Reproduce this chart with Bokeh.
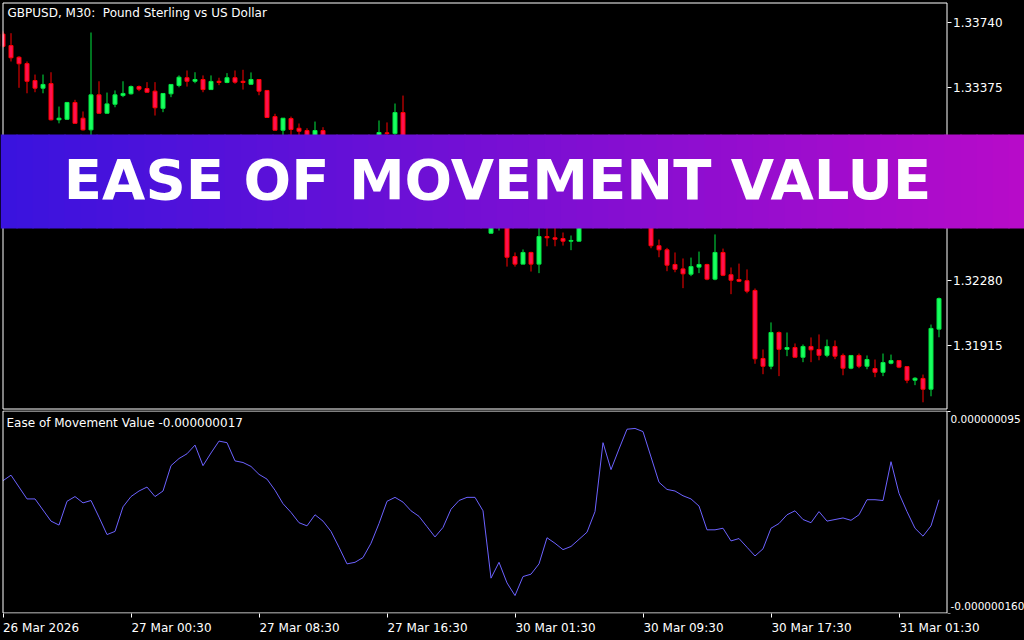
import numpy as np
from bokeh.plotting import figure
from bokeh.layouts import column
from bokeh.models import (Range1d, FixedTicker, NumeralTickFormatter, CustomJSTickFormatter,
                          BoxAnnotation, Label, ColumnDataSource, LinearAxis,
                          GlobalInlineStyleSheet)
from bokeh.embed import file_html
from bokeh.resources import INLINE

# ---------------- data ----------------
symbol_title = "GBPUSD, M30:\u00a0 Pound Sterling vs US Dollar"
indicator_name = "Ease of Movement Value"
banner_text = "EASE OF MOVEMENT VALUE"

opens = [
    1.33676, 1.33611, 1.33545, 1.33509, 1.33413, 1.33370, 1.33396, 1.33191, 1.33194, 1.33289,
    1.33200, 1.33134, 1.33332, 1.33228, 1.33279, 1.33328, 1.33338, 1.33379, 1.33368, 1.33353,
    1.33256, 1.33338, 1.33385, 1.33429, 1.33409, 1.33419, 1.33362, 1.33409, 1.33402, 1.33429,
    1.33409, 1.33392, 1.33419, 1.33357, 1.33209, 1.33132, 1.33198, 1.33143, 1.33130, 1.33062,
    1.33130, 1.33028, 1.32960, 1.32859, 1.32791, 1.32830, 1.32904, 1.33017, 1.33117, 1.33113,
    1.33232, 1.33017, 1.32932, 1.32972, 1.32847, 1.32762, 1.32819, 1.32893, 1.32859, 1.32904,
    1.32870, 1.32549, 1.32610, 1.32706, 1.32417, 1.32374, 1.32440, 1.32374, 1.32530, 1.32523,
    1.32519, 1.32504, 1.32504, 1.32649, 1.32734, 1.32819, 1.33017, 1.32932, 1.33028, 1.33074,
    1.32989, 1.32791, 1.32478, 1.32455, 1.32372, 1.32347, 1.32317, 1.32357, 1.32372, 1.32289,
    1.32440, 1.32314, 1.32287, 1.32280, 1.32225, 1.31840, 1.31796, 1.31987, 1.31892, 1.31902,
    1.31847, 1.31908, 1.31891, 1.31858, 1.31908, 1.31857, 1.31785, 1.31857, 1.31796, 1.31783,
    1.31762, 1.31813, 1.31828, 1.31794, 1.31717, 1.31727, 1.31666, 1.32006]

highs = [
    1.33691, 1.33681, 1.33551, 1.33521, 1.33447, 1.33447, 1.33460, 1.33266, 1.33292, 1.33304,
    1.33238, 1.33685, 1.33409, 1.33345, 1.33357, 1.33409, 1.33385, 1.33385, 1.33404, 1.33404,
    1.33340, 1.33391, 1.33442, 1.33470, 1.33460, 1.33442, 1.33442, 1.33429, 1.33455, 1.33470,
    1.33474, 1.33459, 1.33419, 1.33360, 1.33225, 1.33200, 1.33209, 1.33170, 1.33143, 1.33181,
    1.33149, 1.33045, 1.32977, 1.32876, 1.32859, 1.32926, 1.33034, 1.33187, 1.33176, 1.33283,
    1.33328, 1.33040, 1.33017, 1.32989, 1.32870, 1.32847, 1.32915, 1.32915, 1.32932, 1.32926,
    1.32887, 1.32734, 1.32745, 1.32734, 1.32440, 1.32457, 1.32444, 1.32610, 1.32649, 1.32632,
    1.32553, 1.32536, 1.32677, 1.32762, 1.32847, 1.33045, 1.33062, 1.33074, 1.33096, 1.33091,
    1.33017, 1.32819, 1.32513, 1.32466, 1.32440, 1.32406, 1.32411, 1.32445, 1.32376, 1.32542,
    1.32462, 1.32355, 1.32377, 1.32344, 1.32236, 1.31891, 1.32044, 1.31993, 1.31987, 1.31925,
    1.31919, 1.31959, 1.31976, 1.31947, 1.31942, 1.31868, 1.31857, 1.31868, 1.31857, 1.31834,
    1.31868, 1.31862, 1.31828, 1.31794, 1.31734, 1.31749, 1.32032, 1.32185]

lows = [
    1.33600, 1.33521, 1.33372, 1.33341, 1.33347, 1.33341, 1.33187, 1.33171, 1.33190, 1.33170,
    1.33130, 1.33096, 1.33226, 1.33226, 1.33262, 1.33319, 1.33334, 1.33353, 1.33345, 1.33215,
    1.33234, 1.33319, 1.33375, 1.33379, 1.33398, 1.33347, 1.33362, 1.33387, 1.33398, 1.33395,
    1.33362, 1.33391, 1.33330, 1.33201, 1.33132, 1.33102, 1.33099, 1.33096, 1.33045, 1.33040,
    1.33006, 1.32932, 1.32836, 1.32745, 1.32762, 1.32808, 1.32893, 1.33000, 1.33074, 1.33091,
    1.32989, 1.32893, 1.32904, 1.32819, 1.32734, 1.32745, 1.32802, 1.32836, 1.32842, 1.32847,
    1.32706, 1.32547, 1.32564, 1.32360, 1.32360, 1.32374, 1.32332, 1.32323, 1.32475, 1.32475,
    1.32479, 1.32453, 1.32502, 1.32621, 1.32706, 1.32802, 1.32904, 1.32915, 1.32989, 1.32960,
    1.32762, 1.32464, 1.32413, 1.32334, 1.32328, 1.32238, 1.32306, 1.32323, 1.32283, 1.32283,
    1.32306, 1.32204, 1.32272, 1.32209, 1.31810, 1.31751, 1.31779, 1.31740, 1.31853, 1.31847,
    1.31819, 1.31819, 1.31830, 1.31847, 1.31836, 1.31745, 1.31779, 1.31785, 1.31779, 1.31734,
    1.31740, 1.31807, 1.31785, 1.31700, 1.31689, 1.31592, 1.31626, 1.31960]

closes = [
    1.33607, 1.33542, 1.33508, 1.33409, 1.33370, 1.33391, 1.33191, 1.33200, 1.33289, 1.33171,
    1.33134, 1.33332, 1.33228, 1.33281, 1.33332, 1.33340, 1.33379, 1.33364, 1.33347, 1.33259,
    1.33340, 1.33391, 1.33432, 1.33409, 1.33419, 1.33362, 1.33408, 1.33402, 1.33429, 1.33404,
    1.33402, 1.33419, 1.33353, 1.33204, 1.33132, 1.33200, 1.33136, 1.33126, 1.33074, 1.33130,
    1.33028, 1.32960, 1.32859, 1.32791, 1.32830, 1.32904, 1.33017, 1.33119, 1.33113, 1.33232,
    1.33017, 1.32932, 1.32972, 1.32847, 1.32762, 1.32819, 1.32893, 1.32859, 1.32904, 1.32870,
    1.32734, 1.32666, 1.32706, 1.32413, 1.32374, 1.32440, 1.32374, 1.32530, 1.32523, 1.32515,
    1.32504, 1.32508, 1.32649, 1.32734, 1.32819, 1.33017, 1.32932, 1.33028, 1.33074, 1.32989,
    1.32791, 1.32478, 1.32455, 1.32368, 1.32345, 1.32319, 1.32360, 1.32372, 1.32289, 1.32440,
    1.32311, 1.32283, 1.32277, 1.32221, 1.31838, 1.31796, 1.31987, 1.31892, 1.31902, 1.31847,
    1.31908, 1.31889, 1.31858, 1.31908, 1.31853, 1.31785, 1.31857, 1.31796, 1.31834, 1.31762,
    1.31817, 1.31828, 1.31791, 1.31717, 1.31728, 1.31666, 1.32010, 1.32179]

# Ease of Movement value, in units of 1e-9
emv_nano = [
    7, 14, -1, -16, -16, -30, -44, -49, -19, -13,
    -21, -18, -39, -61, -57, -26, -13, -6, -1, -13,
    -6, 26, 35, 41, 52, 26, 42, 57, 55, 32,
    30, 25, 15, 9, -5, -22, -33, -46, -50, -36,
    -44, -57, -77, -98, -96, -90, -72, -47, -19, -14,
    -20, -31, -38, -51, -64, -52, -29, -18, -14, -14,
    -31, -116, -96, -122, -138, -114, -111, -98, -65, -72,
    -80, -76, -67, -58, -32, 55, 21, 47, 72, 73,
    69, 37, 5, -4, -6, -12, -16, -25, -55, -55,
    -53, -69, -66, -77, -88, -79, -53, -47, -36, -31,
    -42, -46, -32, -44, -42, -40, -43, -36, -17, -17,
    -18, 31, -9, -32, -53, -63, -50, -17]

price_ticks = [1.31915, 1.32280, 1.32645, 1.33010, 1.33375, 1.33740]
price_window = (1.31554, 1.33852)      # price shown between the pane borders
emv_window = (-160e-9, 95e-9)          # indicator values at the pane borders
time_labels = ["26 Mar 2026", "27 Mar 00:30", "27 Mar 08:30", "27 Mar 16:30",
               "30 Mar 01:30", "30 Mar 09:30", "30 Mar 17:30", "31 Mar 01:30"]
label_bars = [0, 16, 32, 48, 64, 80, 96, 112]

# ---------------- styling / geometry ----------------
FONT = "DejaVu Sans"
BG = "black"
BULL_LINE, BULL_FILL = "#00e640", "#18ff60"
BEAR_LINE, BEAR_FILL = "#ff0000", "#ff1050"
EMV_COLOR = "#6c62ff"
W, H1, H2 = 1024, 410, 230
PX_BAR = 8.0                       # pixels per bar
pane_x = (0.0, 118.0)              # pane borders in bar units
x0 = -2.5 / PX_BAR
xr = Range1d(x0, x0 + W / PX_BAR)

n = len(opens)
idx = np.arange(n)

# price pane: borders at 2.5 px and 408.5 px from the top of a 410 px frame
pp = (price_window[1] - price_window[0]) / 406.0
p1_range = Range1d(price_window[0] - 1.5 * pp, price_window[1] + 2.5 * pp)
# indicator pane: borders at 0.5 px and 202.5 px of a 203 px frame
ep = (emv_window[1] - emv_window[0]) / 202.0
p2_range = Range1d(emv_window[0] - 0.5 * ep, emv_window[1] + 0.5 * ep)


def base_fig(height, yr, bottom):
    f = figure(width=W, height=height, x_range=xr, y_range=yr,
               output_backend="svg", toolbar_location=None,
               x_axis_location=None, y_axis_location=None,
               min_border_left=0, min_border_right=0, min_border_top=0,
               min_border_bottom=bottom,
               background_fill_color=BG, border_fill_color=BG, outline_line_color=None)
    f.grid.visible = False
    return f


# ---------------- main price pane ----------------
p1 = base_fig(H1, p1_range, 0)

O = np.array(opens); C = np.array(closes)
up = C >= O
src = ColumnDataSource(dict(
    x=idx, high=highs, low=lows,
    top=np.maximum(O, C), bottom=np.minimum(O, C),
    line=[BULL_LINE if u else BEAR_LINE for u in up],
    fill=[BULL_FILL if u else BEAR_FILL for u in up],
))
p1.segment(x0="x", y0="low", x1="x", y1="high", line_color="line", line_width=1, source=src)
p1.vbar(x="x", width=0.5, top="top", bottom="bottom", fill_color="fill",
        line_color="line", line_width=1, source=src)

# hide what lies left of the pane border, then draw the pane border (crisp 1px)
p1.quad(left=xr.start, right=pane_x[0] - 0.5 / PX_BAR, bottom=p1_range.start, top=p1_range.end,
        fill_color=BG, line_color=None)
p1.quad(left=pane_x[0], right=pane_x[1], bottom=price_window[0], top=price_window[1],
        fill_color=None, line_color="white", line_width=1)

ya = LinearAxis(fixed_location=pane_x[1])
ya.ticker = FixedTicker(ticks=price_ticks, minor_ticks=[])
ya.formatter = NumeralTickFormatter(format="0.00000")
ya.axis_line_color = None
ya.major_tick_line_color = "white"
ya.major_tick_out = 4
ya.major_tick_in = 0
ya.minor_tick_line_color = None
ya.major_label_standoff = 2
ya.major_label_text_color = "white"
ya.major_label_text_font = FONT
ya.major_label_text_font_size = "12px"
p1.add_layout(ya, "right")

p1.add_layout(Label(x=7, y=12.5, x_units="canvas", y_units="canvas", text=symbol_title,
                    text_color="white", text_font=FONT, text_font_size="12px",
                    text_baseline="middle", text_align="left"))

# banner with a horizontal gradient
left_rgb = np.array([58, 19, 222]); right_rgb = np.array([183, 11, 201])
nstrip = 64
sw = W / nstrip
for i in range(nstrip):
    t = i / (nstrip - 1)
    r, g, b = (left_rgb + (right_rgb - left_rgb) * t).round().astype(int)
    p1.add_layout(BoxAnnotation(left=i * sw, right=(i + 1) * sw + 1, top=134, bottom=228,
                                left_units="canvas", right_units="canvas",
                                top_units="canvas", bottom_units="canvas",
                                fill_color=f"#{r:02x}{g:02x}{b:02x}", fill_alpha=1.0,
                                line_color=None, level="overlay"))
p1.add_layout(Label(x=497, y=179, x_units="canvas", y_units="canvas", text=banner_text,
                    text_color="white", text_font=FONT, text_font_style="bold",
                    text_font_size="56px", text_align="center", text_baseline="middle",
                    level="overlay"))

# ---------------- indicator pane ----------------
p2 = base_fig(H2, p2_range, 27)

emv = np.array(emv_nano) * 1e-9
p2.line(idx, emv, line_color=EMV_COLOR, line_width=1)
p2.quad(left=pane_x[0], right=pane_x[1], bottom=emv_window[0], top=emv_window[1],
        fill_color=None, line_color="white", line_width=1)

# time axis: tick marks at the bars (minor ticks); labels begin at the tick
label_w = [76 if i == 0 else 81 for i in range(len(time_labels))]
label_pos = [b + w / 2 / PX_BAR for b, w in zip(label_bars, label_w)]
xa = LinearAxis()
xa.ticker = FixedTicker(ticks=label_pos, minor_ticks=label_bars)
xa.formatter = CustomJSTickFormatter(args=dict(labels=time_labels), code="return labels[index]")
xa.axis_line_color = None
xa.major_tick_line_color = None
xa.major_tick_out = 4
xa.major_tick_in = 0
xa.minor_tick_line_color = "white"
xa.minor_tick_out = 4
xa.minor_tick_in = 0
xa.major_label_standoff = 3
xa.major_label_text_color = "white"
xa.major_label_text_font = FONT
xa.major_label_text_font_size = "12px"
p2.add_layout(xa, "below")

ya2 = LinearAxis(fixed_location=pane_x[1])
ya2.ticker = FixedTicker(ticks=[], minor_ticks=list(emv_window))
ya2.axis_line_color = None
ya2.minor_tick_line_color = "white"
ya2.minor_tick_out = 3
ya2.minor_tick_in = 0
ya2.major_tick_line_color = None
p2.add_layout(ya2, "right")

p2.add_layout(Label(x=6, y=12, x_units="canvas", y_units="canvas",
                    text=f"{indicator_name} {emv[-1]:.9f}",
                    text_color="white", text_font=FONT, text_font_size="12px",
                    text_baseline="middle", text_align="left"))
p2.add_layout(Label(x=950, y=8, x_units="canvas", y_units="canvas",
                    text=f"{emv_window[1]:.9f}", text_color="white", text_font=FONT,
                    text_font_size="10.5px", text_baseline="middle", text_align="left"))
p2.add_layout(Label(x=950, y=195, x_units="canvas", y_units="canvas",
                    text=f"{emv_window[0]:.9f}", text_color="white", text_font=FONT,
                    text_font_size="10.5px", text_baseline="middle", text_align="left"))

layout = column(p1, p2, spacing=0)
layout.stylesheets = [GlobalInlineStyleSheet(
    css="html, body { margin: 0 !important; padding: 0; overflow: hidden; background: #000; }")]

open("out.html", "w").write(file_html(layout, INLINE))
